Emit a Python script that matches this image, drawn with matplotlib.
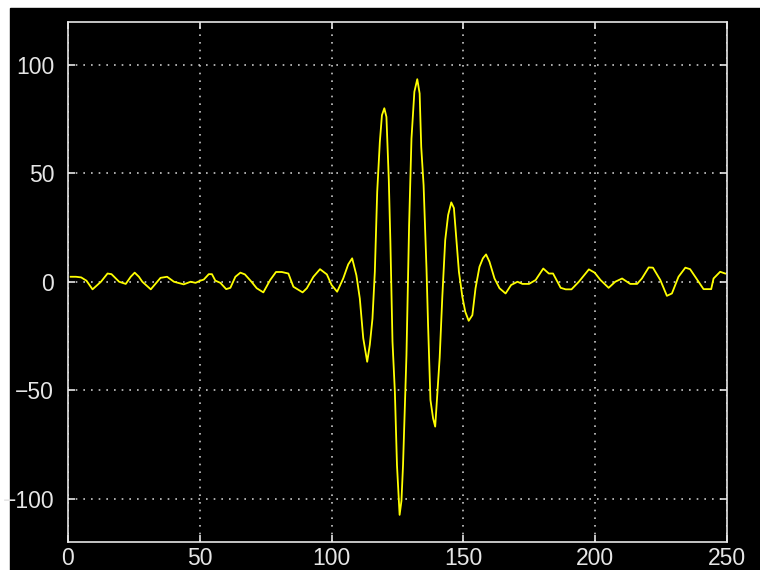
"""Signal avec salve centrale, style MATLAB (fond noir, grille pointillée)."""

import matplotlib

matplotlib.use("Agg")
import matplotlib.pyplot as plt
from matplotlib.patches import Rectangle

sample_pos = [
    1, 3, 5, 7, 9.3, 12.5, 15, 16.5, 19.4, 21.9, 23.8, 25.3, 26.9, 28.2,
    31.4, 35.1, 37.6, 40.2, 43.9, 46.5, 48.4, 50.2, 51.5, 53.4, 54.6, 55.9,
    57.8, 60, 61.6, 63.5, 65.4, 67.1, 69.6, 71.6, 74.1, 76.7, 78.9, 81.1,
    83.6, 85.5, 89, 90.6, 93.1, 95.6, 98.2, 100, 102.1, 104.4, 106.3, 107.8,
    109.4, 110.7, 112, 113.5, 114.5, 115.5, 116.4, 117.3, 118.3, 119.1, 120,
    120.8, 121.7, 122.3, 123.1, 124, 124.8, 125.8, 126.5, 127.1, 128.4,
    129.4, 130.3, 131.4, 132.5, 133.4, 134, 134.9, 136, 136.6, 137.5, 138.5,
    139.3, 140, 141, 142, 143.1, 144.2, 145.4, 146.4, 147.3, 148.3, 149.6,
    150.7, 152, 153.4, 154.6, 156.1, 157.4, 158.6, 159.9, 161.8, 163.7, 166,
    168.1, 170.5, 172.4, 174.9, 177.4, 180.3, 182.4, 184, 186.9, 188.8, 191,
    193.8, 197.6, 199.8, 202, 205.1, 207.6, 210.2, 213.3, 215.9, 217.7,
    220.3, 221.9, 224.7, 227.2, 229.1, 231.6, 234.2, 236, 239.2, 241.1, 244,
    244.9, 247.4, 249.3,
]
amplitude = [
    2.3, 2.3, 2.0, 0.5, -3.5, 0.0, 3.8, 3.5, 0.0, -1.0, 2.3, 4.2, 2.3, 0.0,
    -3.5, 1.8, 2.3, 0.0, -1.2, 0.0, -0.5, 0.5, 1.0, 3.5, 3.5, 0.5,
    -0.5, -3.4, -2.8, 2.3, 4.2, 3.4, 0.0, -3.0, -4.9, 0.8, 4.5, 4.5,
    3.8, -2.3, -4.9, -3.0, 2.3, 5.8, 3.4, -1.5, -4.6, 1.5, 8.0, 10.8,
    3.0, -7.7, -26.0, -36.9, -29.0, -17.0, 4.6, 41.5, 64.5, 76.8, 80.0,
    76.0, 46.9, 18.4, -27.6, -50.7, -84.5, -107.5, -101.0, -84.5, -33.8,
    26.0, 66.0, 87.6, 93.4, 86.8, 62.2, 44.5, 6.0, -20.0, -54.5, -63.0,
    -66.8, -53.8, -35.0, -6.9, 19.2, 30.7, 36.6, 34.0, 20.0, 4.6, -6.9,
    -13.8, -18.0, -15.4, -3.0, 6.9, 10.8, 12.6, 9.2, 1.5, -3.0, -5.4,
    -1.5, 0.0, -1.0, -1.0, 0.8, 6.1, 3.8, 3.8, -2.8, -3.5, -3.5,
    0.0, 5.7, 4.2, 0.8, -2.8, 0.0, 1.5, -1.0, -1.0, 1.5,
    6.6, 6.5, 0.8, -6.5, -5.4, 2.3, 6.5, 5.8, 0.0, -3.4, -3.4,
    1.5, 4.6, 3.8,
]

x_ticks = [0, 50, 100, 150, 200, 250]
y_ticks = [-100, -50, 0, 50, 100]

FG = "#e6e6e6"

fig = plt.figure(figsize=(7.6, 5.7), dpi=100, facecolor="white")
# fond noir de la fenêtre (marge blanche en haut et à gauche)
fig.patches.append(Rectangle((10 / 760, 0), 1, (570 - 8) / 570,
                             transform=fig.transFigure, color="black",
                             zorder=-10))

ax = fig.add_axes([68 / 760, 28 / 570, (727 - 68) / 760, (542 - 21.5) / 570])
ax.set_facecolor("black")
ax.plot(sample_pos, amplitude, color="#ffff00", lw=1.3)

ax.set_xlim(0, 250)
ax.set_ylim(-120, 120)
ax.set_xticks(x_ticks)
ax.set_yticks(y_ticks)
ax.grid(True, color="#c8c8c8", linestyle=(0, (1, 3.6)), linewidth=1.2)

for sp in ax.spines.values():
    sp.set_color(FG)
    sp.set_linewidth(1.2)
ax.tick_params(direction="in", length=5, width=1.2, color=FG,
               top=True, right=True, labelcolor=FG, labelsize=16.5)
ax.tick_params(axis="y", pad=10)
ax.tick_params(axis="x", pad=3.5)
for lab in ax.get_xticklabels() + ax.get_yticklabels():
    lab.set_family("Liberation Sans")

fig.savefig("out.png", dpi=100, facecolor=fig.get_facecolor())
